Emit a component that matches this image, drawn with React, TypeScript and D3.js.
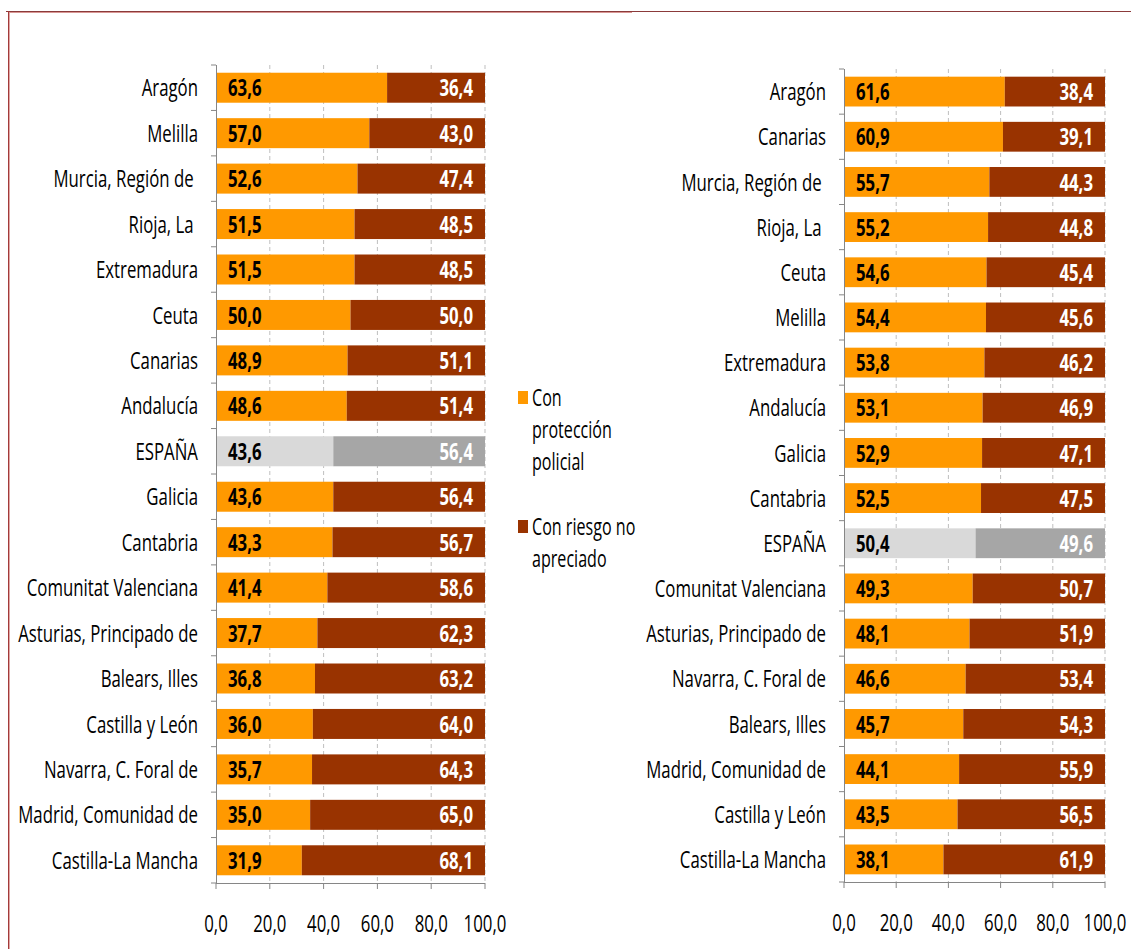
import React from "react";
import * as d3 from "d3";

const leftCategories = ["Aragón","Melilla","Murcia, Región de ","Rioja, La ","Extremadura","Ceuta","Canarias","Andalucía","ESPAÑA","Galicia","Cantabria","Comunitat Valenciana","Asturias, Principado de","Balears, Illes","Castilla y León","Navarra, C. Foral de","Madrid, Comunidad de","Castilla-La Mancha"];
const leftProteccion = [63.6,57.0,52.6,51.5,51.5,50.0,48.9,48.6,43.6,43.6,43.3,41.4,37.7,36.8,36.0,35.7,35.0,31.9];
const leftRiesgo = [36.4,43.0,47.4,48.5,48.5,50.0,51.1,51.4,56.4,56.4,56.7,58.6,62.3,63.2,64.0,64.3,65.0,68.1];

const rightCategories = ["Aragón","Canarias","Murcia, Región de ","Rioja, La ","Ceuta","Melilla","Extremadura","Andalucía","Galicia","Cantabria","ESPAÑA","Comunitat Valenciana","Asturias, Principado de","Navarra, C. Foral de","Balears, Illes","Madrid, Comunidad de","Castilla y León","Castilla-La Mancha"];
const rightProteccion = [61.6,60.9,55.7,55.2,54.6,54.4,53.8,53.1,52.9,52.5,50.4,49.3,48.1,46.6,45.7,44.1,43.5,38.1];
const rightRiesgo = [38.4,39.1,44.3,44.8,45.4,45.6,46.2,46.9,47.1,47.5,49.6,50.7,51.9,53.4,54.3,55.9,56.5,61.9];

const xTicks = [0,20,40,60,80,100];
const legendItems = [
  { lines: ["Con", "protección", "policial"], color: "#FF9900" },
  { lines: ["Con riesgo no", "apreciado"], color: "#993300" },
];

const FONT = "'Open Sans','Noto Sans',sans-serif";
const SX = 0.7;
const fmt = (v: number) => v.toFixed(1).replace(".", ",");

function T({ x, y, size, anchor = "start", bold = false, fill = "#000", children }: any) {
  return (
    <text transform={`translate(${x},${y}) scale(${SX},1)`} fontSize={size} fontWeight={bold ? "bold" : "normal"} fill={fill} textAnchor={anchor} dy="0.36em" style={{ whiteSpace: "pre" }}>
      {children}
    </text>
  );
}

function Panel({ cats, a, b, x0, x1, y0, y1 }: { cats: string[]; a: number[]; b: number[]; x0: number; x1: number; y0: number; y1: number }) {
  const x = d3.scaleLinear().domain([0, 100]).range([x0, x1]);
  const y = d3.scaleBand<string>().domain(cats.map((c, i) => i + "")).range([y0, y1]).paddingInner(0.34).paddingOuter(0.17);
  const step = y.step();
  return (
    <g>
      {xTicks.filter(t => t > 0).map(t => (
        <line key={"g" + t} x1={x(t)} x2={x(t)} y1={y0} y2={y1} stroke="#BFBFBF" strokeDasharray="4,3" />
      ))}
      {cats.map((c, i) => {
        const isSpain = c === "ESPAÑA";
        const yy = y(i + "")!;
        const h = y.bandwidth();
        return (
          <g key={i}>
            <rect x={x(0)} y={yy} width={x(a[i]) - x(0)} height={h} fill={isSpain ? "#D9D9D9" : "#FF9900"} />
            <rect x={x(a[i])} y={yy} width={x(a[i] + b[i]) - x(a[i])} height={h} fill={isSpain ? "#A6A6A6" : "#993300"} />
            <T x={x(0) + 12} y={yy + h / 2} size={24} bold>{fmt(a[i])}</T>
            <T x={x(100) - 12} y={yy + h / 2} size={24} bold fill="#fff" anchor="end">{fmt(b[i])}</T>
            <T x={x(0) - 18} y={yy + h / 2} size={24} anchor="end">{c}</T>
          </g>
        );
      })}
      <line x1={x0 + 0.5} x2={x0 + 0.5} y1={y0} y2={y1} stroke="#868686" />
      {cats.map((c, i) => (
        <line key={"t" + i} x1={x0 - 5} x2={x0} y1={y0 + i * step} y2={y0 + i * step} stroke="#868686" />
      ))}
      <line x1={x0 - 5} x2={x0} y1={y1} y2={y1} stroke="#868686" />
      <line x1={x0} x2={x1} y1={y1 + 0.5} y2={y1 + 0.5} stroke="#868686" />
      {xTicks.map(t => (
        <g key={"x" + t}>
          <line x1={x(t)} x2={x(t)} y1={y1} y2={y1 + 6} stroke="#868686" />
          <T x={x(t)} y={y1 + 40} size={24} anchor="middle">{fmt(t)}</T>
        </g>
      ))}
    </g>
  );
}

export default function App() {
  return (
    <svg width={1131} height={949} style={{ position: "absolute", left: 0, top: 0, fontFamily: FONT }}>
      <rect width={1131} height={949} fill="#fff" />
      <line x1={6} x2={1131} y1={11.5} y2={11.5} stroke="#8B3A3A" />
      <line x1={9} x2={632} y1={12.5} y2={12.5} stroke="#D99694" />
      <line x1={8.5} x2={8.5} y1={11} y2={949} stroke="#A33A3A" />
      <line x1={9.5} x2={9.5} y1={13} y2={949} stroke="#E0A8A6" />
      <Panel cats={leftCategories} a={leftProteccion} b={leftRiesgo} x0={216} x1={485} y0={65} y1={883} />
      <Panel cats={rightCategories} a={rightProteccion} b={rightRiesgo} x0={844} x1={1105} y0={69} y1={882} />
      {legendItems.map((it, k) => {
        const top = k === 0 ? 398 : 527;
        return (
          <g key={k}>
            <rect x={518} y={top - 7} width={10} height={13} fill={it.color} />
            {it.lines.map((ln: string, j: number) => (
              <T key={j} x={532} y={top + j * 32} size={23}>{ln}</T>
            ))}
          </g>
        );
      })}
    </svg>
  );
}
